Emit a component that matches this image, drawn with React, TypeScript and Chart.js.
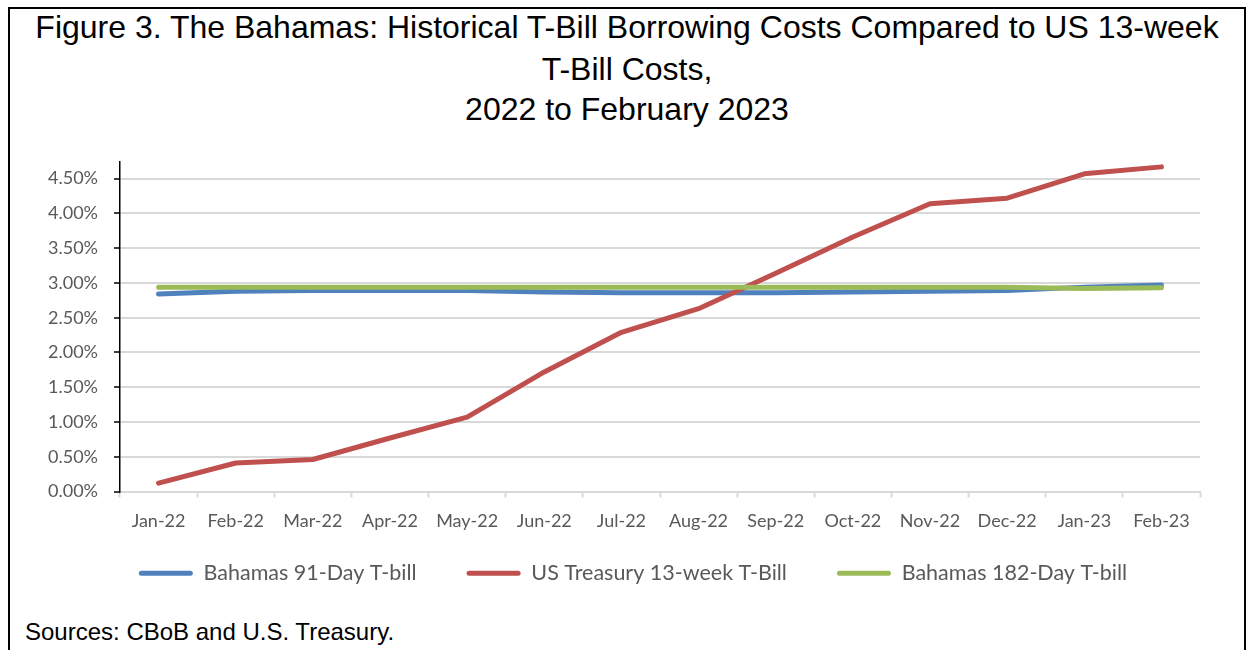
import React, { useEffect, useRef } from "react";
import { Chart, registerables } from "chart.js";

Chart.register(...registerables);

const months = [
  "Jan-22", "Feb-22", "Mar-22", "Apr-22", "May-22", "Jun-22", "Jul-22",
  "Aug-22", "Sep-22", "Oct-22", "Nov-22", "Dec-22", "Jan-23", "Feb-23",
];
const bahamas91 = [2.84, 2.88, 2.89, 2.89, 2.89, 2.87, 2.86, 2.86, 2.86, 2.87, 2.88, 2.89, 2.94, 2.97];
const usTreasury13w = [0.12, 0.41, 0.46, 0.77, 1.07, 1.72, 2.29, 2.63, 3.14, 3.66, 4.14, 4.22, 4.57, 4.67];
const bahamas182 = [2.94, 2.94, 2.94, 2.94, 2.94, 2.94, 2.94, 2.94, 2.94, 2.94, 2.94, 2.94, 2.92, 2.93];
const yTicks = [0, 0.5, 1, 1.5, 2, 2.5, 3, 3.5, 4, 4.5];

const seriesNames = ["Bahamas 91-Day T-bill", "US Treasury 13-week T-Bill", "Bahamas 182-Day T-bill"];
const titleLines = [
  "Figure 3. The Bahamas: Historical T-Bill Borrowing Costs Compared to US 13-week",
  "T-Bill Costs,",
  "2022 to February 2023",
];
const sourceText = "Sources: CBoB and U.S. Treasury.";

const AXIS_FONT = "Lato, 'Noto Sans', sans-serif";

const legendShift = {
  id: "legendShift",
  afterLayout(chart: any) {
    const lg = chart.legend;
    if (!lg) return;
    lg.left += 33;
    lg.right += 33;
    lg.top -= 19;
    lg.bottom -= 19;
  },
};

export default function App() {
  const canvasRef = useRef<HTMLCanvasElement | null>(null);

  useEffect(() => {
    if (!canvasRef.current) return;
    const chart = new Chart(canvasRef.current, {
      type: "line",
      data: {
        labels: months,
        datasets: [
          {
            label: seriesNames[0],
            data: bahamas91,
            borderColor: "#4F81BD",
            backgroundColor: "#4F81BD",
            borderWidth: 5,
            order: 3,
          },
          {
            label: seriesNames[1],
            data: usTreasury13w,
            borderColor: "#C0504D",
            backgroundColor: "#C0504D",
            borderWidth: 5,
            order: 2,
          },
          {
            label: seriesNames[2],
            data: bahamas182,
            borderColor: "#9BBB59",
            backgroundColor: "#9BBB59",
            borderWidth: 5,
            order: 1,
          },
        ],
      },
      options: {
        responsive: false,
        animation: false,
        devicePixelRatio: 1,
        elements: {
          point: { radius: 0, hoverRadius: 0 },
          line: { tension: 0, borderCapStyle: "round", borderJoinStyle: "round", fill: false },
        },
        layout: { padding: { left: 0, right: 48, top: 162, bottom: 37 } },
        scales: {
          x: {
            offset: true,
            afterFit: (s: any) => {
              s.height = 40;
            },
            grid: {
              offset: true,
              drawOnChartArea: false,
              drawTicks: true,
              tickLength: 6,
              tickColor: "#D9D9D9",
              tickWidth: 2,
            },
            border: { color: "#D9D9D9", width: 2 },
            ticks: {
              color: "#595959",
              font: { family: AXIS_FONT, size: 18 },
              padding: 13,
              maxRotation: 0,
              autoSkip: false,
            },
          },
          y: {
            min: 0,
            max: 4.74,
            afterBuildTicks: (s: any) => {
              s.ticks = yTicks.map((v) => ({ value: v }));
            },
            afterFit: (s: any) => {
              s.width = 120;
            },
            grid: {
              color: "#D9D9D9",
              lineWidth: 2,
              tickColor: "#000000",
              tickLength: 6,
              tickWidth: 1.5,
            },
            border: { color: "#000000", width: 1.5 },
            ticks: {
              color: "#595959",
              font: { family: AXIS_FONT, size: 18 },
              padding: 16,
              callback: (v: any) => Number(v).toFixed(2) + "%",
            },
          },
        },
        plugins: {
          title: { display: false },
          tooltip: { enabled: false },
          legend: {
            position: "bottom",
            labels: {
              boxWidth: 54,
              boxHeight: 5,
              padding: 50,
              color: "#595959",
              font: { family: AXIS_FONT, size: 21.5 },
              useBorderRadius: true,
              borderRadius: 2.5,
              sort: (a: any, b: any) => a.datasetIndex - b.datasetIndex,
              generateLabels: (c: any) =>
                (Chart.defaults.plugins.legend.labels.generateLabels as any)(c).map((l: any) => ({
                  ...l,
                  fillStyle: l.strokeStyle,
                  lineWidth: 0,
                })),
            },
          },
        },
      },
      plugins: [legendShift],
    });
    return () => chart.destroy();
  }, []);

  const titleStyle = (top: number): React.CSSProperties => ({
    position: "absolute",
    left: 0,
    width: 1254,
    top,
    textAlign: "center",
    fontFamily: "'Liberation Sans', Arial, sans-serif",
    fontSize: 32,
    lineHeight: "32px",
    color: "#000",
    whiteSpace: "nowrap",
  });

  return (
    <div
      style={{
        position: "fixed",
        left: 0,
        top: 0,
        width: 1248,
        height: 650,
        overflow: "hidden",
        background: "#fff",
      }}
    >
      <div
        style={{
          position: "absolute",
          left: 8,
          top: 7,
          width: 1234,
          height: 700,
          borderTop: "2px solid #000",
          borderLeft: "2px solid #000",
          borderRight: "2px solid #000",
        }}
      />
      <div style={titleStyle(11)}>{titleLines[0]}</div>
      <div style={titleStyle(53)}>{titleLines[1]}</div>
      <div style={titleStyle(93)}>{titleLines[2]}</div>
      <div
        style={{
          position: "absolute",
          left: 25,
          top: 620,
          fontFamily: "'Liberation Sans', Arial, sans-serif",
          fontSize: 24,
          lineHeight: "24px",
          color: "#000",
          whiteSpace: "nowrap",
        }}
      >
        {sourceText}
      </div>
      <canvas
        ref={canvasRef}
        width={1248}
        height={650}
        style={{ position: "absolute", left: 0, top: 0, width: 1248, height: 650 }}
      />
    </div>
  );
}
